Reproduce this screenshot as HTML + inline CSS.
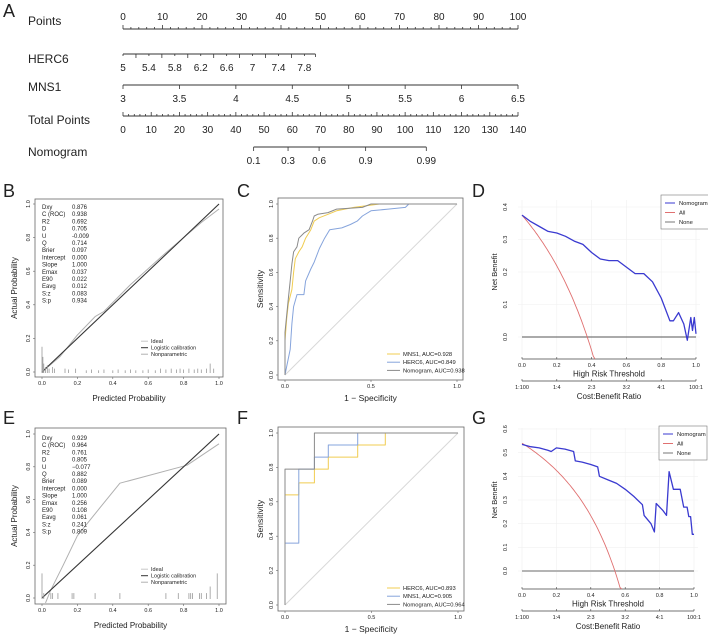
<!DOCTYPE html>
<html><head><meta charset="utf-8">
<style>
html,body{margin:0;padding:0;background:#fff;}
svg{display:block;font-family:"Liberation Sans",Arial,sans-serif;}
</style></head>
<body>
<svg id="chart" width="708" height="636" viewBox="0 0 708 636" xmlns="http://www.w3.org/2000/svg"></svg>
<script>
// ===== Panel A nomogram data =====
const pointsTicks=[0,10,20,30,40,50,60,70,80,90,100];
const herc6Ticks=[5,5.4,5.8,6.2,6.6,7,7.4,7.8];
const herc6PtsPerUnit=16.4;
const mns1Ticks=[3,3.5,4,4.5,5,5.5,6,6.5];
const totalTicks=[0,10,20,30,40,50,60,70,80,90,100,110,120,130,140];
const nomoTicks=[0.1,0.3,0.6,0.9,0.99];
const nomoTotalPts=[46.3,58.5,69.5,86,107.5];
// ===== Panel B calibration =====
const bStatNames=["Dxy","C (ROC)","R2","D","U","Q","Brier","Intercept","Slope","Emax","E90","Eavg","S:z","S:p"];
const bStatVals=["0.876","0.938","0.692","0.705","-0.009","0.714","0.097","0.000","1.000","0.037","0.022","0.012","0.083","0.934"];
const bNonparX=[0,0.1,0.2,0.3,0.35,0.5,0.7,0.9,1.0];
const bNonparY=[0,0.09,0.22,0.33,0.36,0.52,0.71,0.89,0.97];
const bRugX=[0,0.005,0.01,0.02,0.03,0.04,0.06,0.07,0.13,0.15,0.19,0.25,0.28,0.32,0.35,0.4,0.43,0.47,0.5,0.53,0.57,0.6,0.64,0.67,0.7,0.73,0.76,0.78,0.8,0.83,0.86,0.88,0.9,0.93,0.95,0.97];
const bRugH=[0.15,0.09,0.05,0.03,0.04,0.02,0.03,0.02,0.02,0.015,0.02,0.01,0.015,0.01,0.015,0.01,0.015,0.01,0.015,0.01,0.01,0.015,0.01,0.02,0.015,0.02,0.015,0.02,0.015,0.02,0.015,0.02,0.015,0.02,0.05,0.02];
// ===== Panel C ROC =====
const cNomoX=[0,0,0.01,0.02,0.03,0.04,0.05,0.07,0.08,0.11,0.14,0.16,0.17,0.19,0.25,0.3,0.45,0.5,1];
const cNomoY=[0,0.25,0.35,0.45,0.55,0.65,0.72,0.75,0.8,0.83,0.85,0.9,0.93,0.94,0.95,0.97,0.98,1,1];
const cMnsX=[0,0,0.01,0.02,0.04,0.05,0.06,0.08,0.1,0.12,0.15,0.17,0.2,0.25,0.3,0.4,0.55,1];
const cMnsY=[0,0.2,0.33,0.42,0.5,0.6,0.68,0.72,0.75,0.8,0.85,0.9,0.92,0.94,0.96,0.98,1,1];
const cHercX=[0,0.01,0.03,0.04,0.05,0.07,0.11,0.12,0.15,0.17,0.2,0.23,0.26,0.33,0.38,0.42,0.45,0.5,0.6,0.7,0.72,1];
const cHercY=[0,0.05,0.15,0.3,0.4,0.47,0.47,0.55,0.62,0.66,0.74,0.8,0.85,0.86,0.88,0.9,0.93,0.96,0.97,0.98,1,1];
const cLegend=["MNS1, AUC=0.928","HERC6, AUC=0.849","Nomogram, AUC=0.938"];
// ===== Panel D DCA =====
const dPrev=0.375;
const dThreshX=[0,0.05,0.1,0.15,0.2,0.25,0.3,0.35,0.4,0.45,0.5,0.55,0.6,0.65,0.7,0.75,0.8,0.85,0.87,0.9,0.93,0.95,0.97,0.98,0.99,1.0];
const dNomoY=[0.375,0.355,0.34,0.325,0.32,0.31,0.295,0.285,0.26,0.24,0.235,0.235,0.215,0.195,0.195,0.17,0.12,0.05,0.05,0.075,0.04,-0.01,0.06,0.02,0.06,0.01];
// ===== Panel E calibration =====
const eStatVals=["0.929","0.964","0.761","0.805","\u22120.077","0.882","0.089","0.000","1.000","0.256","0.108","0.061","0.241","0.809"];
const eNonparX=[0.02,0.05,0.12,0.2,0.32,0.44,0.82,1.0];
const eNonparY=[-0.03,0.05,0.2,0.38,0.54,0.7,0.81,0.94];
const eRugX=[0,0.01,0.05,0.06,0.09,0.17,0.18,0.3,0.44,0.7,0.77,0.83,0.84,0.85,0.89,0.9,0.93,0.95,0.99];
const eRugH=[0.15,0.03,0.03,0.03,0.03,0.03,0.03,0.03,0.03,0.03,0.03,0.03,0.03,0.03,0.03,0.03,0.03,0.07,0.15];
// ===== Panel F ROC =====
const fHercX=[0,0,0.08,0.08,0.17,0.17,0.25,0.25,0.42,0.42,0.58,0.58,1];
const fHercY=[0,0.64,0.64,0.71,0.71,0.79,0.79,0.86,0.86,0.93,0.93,1,1];
const fMnsX=[0,0,0.08,0.08,0.17,0.17,0.25,0.25,0.42,0.42,1];
const fMnsY=[0,0.36,0.36,0.79,0.79,0.86,0.86,0.93,0.93,1,1];
const fNomoX=[0,0,0.17,0.17,1];
const fNomoY=[0,0.79,0.79,1,1];
const fLegend=["HERC6, AUC=0.893","MNS1, AUC=0.905","Nomogram, AUC=0.964"];
// ===== Panel G DCA =====
const gPrev=0.54;
const gThreshX=[0,0.05,0.1,0.15,0.17,0.2,0.25,0.3,0.31,0.35,0.4,0.44,0.45,0.5,0.55,0.6,0.65,0.7,0.71,0.75,0.77,0.78,0.82,0.84,0.855,0.88,0.92,0.94,0.96,0.97,0.98,0.99,1.0];
const gNomoY=[0.535,0.525,0.52,0.51,0.505,0.52,0.515,0.505,0.465,0.46,0.45,0.44,0.4,0.385,0.37,0.345,0.315,0.28,0.235,0.2,0.165,0.285,0.255,0.235,0.42,0.345,0.345,0.27,0.27,0.23,0.23,0.155,0.155];
// shared tick arrays
const probTicks=[0,0.2,0.4,0.6,0.8,1.0];
const rocTicks=[0,0.5,1.0];
const dcaXTicks=[0,0.2,0.4,0.6,0.8,1.0];
const cbLabels=["1:100","1:4","2:3","3:2","4:1","100:1"];
const dYTicks=[0,0.1,0.2,0.3,0.4];
const gYTicks=[0,0.1,0.2,0.3,0.4,0.5,0.6];

const NS="http://www.w3.org/2000/svg";
const svg=document.getElementById('chart');
function E(tag,attrs,parent){const el=document.createElementNS(NS,tag);for(const k in attrs)el.setAttribute(k,attrs[k]);(parent||svg).appendChild(el);return el;}
function T(x,y,s,size,anchor,parent,extra){const el=E('text',Object.assign({x:x,y:y,'font-size':size,'text-anchor':anchor||'start',fill:'#222'},extra||{}),parent);el.textContent=s;return el;}
function fmt(v){return v.toFixed(1);}
function poly(xs,ys,sx,sy,color,w,parent){let d='';for(let i=0;i<xs.length;i++)d+=(i?'L':'M')+sx(xs[i]).toFixed(1)+','+sy(ys[i]).toFixed(1);return E('path',{d:d,fill:'none',stroke:color,'stroke-width':w,'stroke-linejoin':'round'},parent);}

// panel letters
[["A",3,17],["B",3,197],["C",237,197],["D",472,197],["E",3,424],["F",237,424],["G",472,424]].forEach(l=>{
 const t=T(l[1],l[2],l[0],18,'start');
 
 
});

// ===== Panel A =====
(function(){
 const g=E('g',{});
 
 
 const x0=123,x1=518;const px=p=>x0+(x1-x0)*p/100;
 const lab=(y,s,n)=>{const t=T(28,y,s,12,'start',g);};
 lab(25,'Points','points-row-label');lab(63,'HERC6','herc6-row-label');lab(91,'MNS1','mns1-row-label');lab(124,'Total Points','total-points-row-label');lab(156,'Nomogram','nomogram-row-label');
 let y=29;
 const pa=E('line',{x1:x0,y1:y,x2:x1,y2:y,stroke:'#333','stroke-width':1},g);
 
 for(let p=0;p<=100;p+=2){E('line',{x1:px(p),y1:y,x2:px(p),y2:y-(p%10===0?4:2),stroke:'#333','stroke-width':0.8},g);}
 pointsTicks.forEach(p=>{const t=T(px(p),20,String(p),10,'middle',g);});
 y=54;
 const hp=v=>px((v-5)*herc6PtsPerUnit);
 const hEnd=hp(7.97);
 const ha=E('line',{x1:x0,y1:y,x2:hEnd,y2:y,stroke:'#333','stroke-width':1},g);
 
 for(let v=5;v<=7.81;v+=0.2){E('line',{x1:hp(v),y1:y,x2:hp(v),y2:y+(Math.round(v*10)%4===2?2:4),stroke:'#333','stroke-width':0.8},g);}
 E('line',{x1:hEnd,y1:y,x2:hEnd,y2:y+3,stroke:'#333','stroke-width':0.8},g);
 herc6Ticks.forEach(v=>{const t=T(hp(v),71,String(v),10,'middle',g);});
 y=85;
 const mp=v=>x0+(x1-x0)*(v-3)/3.5;
 const ma=E('line',{x1:x0,y1:y,x2:x1,y2:y,stroke:'#333','stroke-width':1},g);
 
 mns1Ticks.forEach(v=>{E('line',{x1:mp(v),y1:y,x2:mp(v),y2:y+4,stroke:'#333','stroke-width':0.8},g);const t=T(mp(v),102,String(v),10,'middle',g);});
 y=116;
 const tp=v=>x0+(x1-x0)*v/140;
 const ta=E('line',{x1:x0,y1:y,x2:x1,y2:y,stroke:'#333','stroke-width':1},g);
 
 for(let v=0;v<=140;v+=2){E('line',{x1:tp(v),y1:y,x2:tp(v),y2:y-(v%10===0?4:2),stroke:'#333','stroke-width':0.8},g);}
 totalTicks.forEach(v=>{const t=T(tp(v),133,String(v),10,'middle',g);});
 y=147;
 const na=E('line',{x1:tp(nomoTotalPts[0]),y1:y,x2:tp(nomoTotalPts[nomoTotalPts.length-1]),y2:y,stroke:'#333','stroke-width':1},g);
 
 nomoTicks.forEach((v,i)=>{const xx=tp(nomoTotalPts[i]);E('line',{x1:xx,y1:y,x2:xx,y2:y+4,stroke:'#333','stroke-width':0.8},g);const t=T(xx,164,String(v),10,'middle',g);});
})();

// ===== calibration panels =====
function calib(cfg){
 const g=E('g',{});
 
 
 const sx=v=>cfg.x0+v*cfg.w, sy=v=>cfg.y0-v*cfg.h;
 const box=E('rect',{x:cfg.bx0,y:cfg.by0,width:cfg.bx1-cfg.bx0,height:cfg.by1-cfg.by0,fill:'none',stroke:'#666','stroke-width':0.8},g);
 
 probTicks.forEach(v=>{
  E('line',{x1:sx(v),y1:cfg.by1,x2:sx(v),y2:cfg.by1+2,stroke:'#666','stroke-width':0.6},g);
  const t=T(sx(v),cfg.by1+8,fmt(v),5.5,'middle',g);
  E('line',{x1:cfg.bx0,y1:sy(v),x2:cfg.bx0-2,y2:sy(v),stroke:'#666','stroke-width':0.6},g);
  const ty=T(cfg.bx0-5,sy(v),fmt(v),5.5,'middle',g,{transform:'rotate(-90 '+(cfg.bx0-5)+' '+sy(v)+')'});
 });
 const xt=T((cfg.bx0+cfg.bx1)/2,cfg.by1+24,'Predicted Probability',8,'middle',g);
 
 const yc=(cfg.by0+cfg.by1)/2;
 const yt=T(17,yc,'Actual Probability',8,'middle',g,{transform:'rotate(-90 17 '+yc+')'});
 
 const ideal=poly([0,1],[0,1],sx,sy,'#c8c8c8',1.2,g);
 
 const np=poly(cfg.npx,cfg.npy,sx,sy,'#b0b0b0',1,g);
 
 const lg=poly([0,1],[0,1],sx,sy,'#333',1,g);
 
 cfg.rugX.forEach((v,i)=>{const r=E('line',{x1:sx(v),y1:cfg.y0+1,x2:sx(v),y2:sy(cfg.rugH[i]),stroke:'#999','stroke-width':0.8},g);});
 bStatNames.forEach((n,i)=>{
  const yy=cfg.statY+i*7.2;
  const a=T(42,yy,n,6,'start',g);
  const b=T(72,yy,cfg.stats[i],6,'start',g);
 });
 const leg=[['Ideal','#c8c8c8'],['Logistic calibration','#333'],['Nonparametric','#b0b0b0']];
 leg.forEach((l,i)=>{
  const yy=cfg.legY+i*6.5;
  E('line',{x1:141,y1:yy-1.8,x2:148,y2:yy-1.8,stroke:l[1],'stroke-width':1},g);
  const t=T(151,yy,l[0],5.5,'start',g);
 });
}
calib({name:'calibration-training',x0:42,w:177,y0:372,h:168,bx0:35,bx1:223,by0:199,by1:377,npx:bNonparX,npy:bNonparY,rugX:bRugX,rugH:bRugH,stats:bStatVals,statY:209,legY:343});
calib({name:'calibration-validation',x0:42,w:177,y0:598,h:164,bx0:35,bx1:226,by0:428,by1:604,npx:eNonparX,npy:eNonparY,rugX:eRugX,rugH:eRugH,stats:eStatVals,statY:440,legY:571});

// ===== ROC panels =====
function roc(cfg){
 const g=E('g',{});
 
 
 const sx=v=>cfg.x0+v*cfg.w, sy=v=>cfg.y0-v*cfg.h;
 const box=E('rect',{x:cfg.bx0,y:cfg.by0,width:cfg.bx1-cfg.bx0,height:cfg.by1-cfg.by0,fill:'none',stroke:'#666','stroke-width':0.8},g);
 
 rocTicks.forEach(v=>{E('line',{x1:sx(v),y1:cfg.by1,x2:sx(v),y2:cfg.by1+2,stroke:'#666','stroke-width':0.6},g);const t=T(sx(v),cfg.by1+8,fmt(v),5.5,'middle',g);});
 probTicks.forEach(v=>{E('line',{x1:cfg.bx0,y1:sy(v),x2:cfg.bx0-2,y2:sy(v),stroke:'#666','stroke-width':0.6},g);const t=T(cfg.bx0-5,sy(v),fmt(v),5.5,'middle',g,{transform:'rotate(-90 '+(cfg.bx0-5)+' '+sy(v)+')'});});
 const xt=T((cfg.bx0+cfg.bx1)/2,cfg.by1+21,'1 \u2212 Specificity',8.5,'middle',g);
 
 const yc=(cfg.by0+cfg.by1)/2;
 const yt=T(263,yc,'Sensitivity',8.5,'middle',g,{transform:'rotate(-90 263 '+yc+')'});
 
 const ref=poly([0,1],[0,1],sx,sy,'#d8d8d8',1,g);
 
 cfg.series.forEach(s=>{const p=poly(s.x,s.y,sx,sy,s.c,1,g);});
 cfg.legend.forEach((l,i)=>{
  const yy=cfg.legY+i*8.2;
  E('line',{x1:387,y1:yy-2,x2:400,y2:yy-2,stroke:cfg.series[cfg.legOrder[i]].c,'stroke-width':1},g);
  const t=T(403,yy,l,5.8,'start',g);
 });
}
const Y='#f0cc50',BL='#86a4dc',GR='#8a8a8a';
roc({name:'roc-training',x0:285,w:172,y0:375,h:171,bx0:278,bx1:463,by0:198,by1:380,legY:356,legend:cLegend,legOrder:[1,0,2],
 series:[{x:cHercX,y:cHercY,c:BL,n:'roc-herc6'},{x:cMnsX,y:cMnsY,c:Y,n:'roc-mns1'},{x:cNomoX,y:cNomoY,c:GR,n:'roc-nomogram'}]});
roc({name:'roc-validation',x0:285,w:173,y0:605,h:172,bx0:278,bx1:464,by0:427,by1:611,legY:590,legend:fLegend,legOrder:[0,1,2],
 series:[{x:fHercX,y:fHercY,c:Y,n:'roc-herc6'},{x:fMnsX,y:fMnsY,c:BL,n:'roc-mns1'},{x:fNomoX,y:fNomoY,c:GR,n:'roc-nomogram'}]});

// ===== DCA panels =====
function dca(cfg){
 const g=E('g',{});
 
 
 const sx=v=>cfg.x0+v*cfg.w, sy=v=>cfg.y0-v*cfg.h;
 const top=cfg.top, bot=cfg.axisY-4;
 cfg.yTicks.forEach(v=>{E('line',{x1:sx(0)-4,y1:sy(v),x2:sx(1)+4,y2:sy(v),stroke:'#f0f0f0','stroke-width':0.6},g);});
 dcaXTicks.forEach(v=>{E('line',{x1:sx(v),y1:top,x2:sx(v),y2:bot,stroke:'#f0f0f0','stroke-width':0.6},g);});
 cfg.yTicks.forEach(v=>{const t=T(cfg.x0-15,sy(v),fmt(v),5.5,'middle',g,{transform:'rotate(-90 '+(cfg.x0-15)+' '+sy(v)+')'});});
 const yc=sy(cfg.yTicks[Math.floor(cfg.yTicks.length/2)]);
 const yt=T(497,yc,'Net Benefit',7.5,'middle',g,{transform:'rotate(-90 497 '+yc+')'});
 
 const a1=E('line',{x1:sx(0),y1:cfg.axisY,x2:sx(1),y2:cfg.axisY,stroke:'#444','stroke-width':0.8},g);
 
 const a2=E('line',{x1:sx(0),y1:cfg.axisY+22,x2:sx(1),y2:cfg.axisY+22,stroke:'#444','stroke-width':0.8},g);
 
 dcaXTicks.forEach((v,i)=>{
  E('line',{x1:sx(v),y1:cfg.axisY,x2:sx(v),y2:cfg.axisY-2,stroke:'#444','stroke-width':0.6},g);
  E('line',{x1:sx(v),y1:cfg.axisY+22,x2:sx(v),y2:cfg.axisY+20,stroke:'#444','stroke-width':0.6},g);
  const t=T(sx(v),cfg.axisY+8,fmt(v),5.5,'middle',g);
  const c=T(sx(v),cfg.axisY+30,cbLabels[i],5.5,'middle',g);
 });
 const xt=T(sx(0.5),cfg.axisY+17.5,'High Risk Threshold',8,'middle',g);
 
 const xt2=T(sx(0.5),cfg.axisY+40,'Cost:Benefit Ratio',8,'middle',g);
 
 const none=poly([0,1],[0,0],sx,sy,cfg.noneColor,cfg.noneW,g);
 
 const ax=[],ay=[];
 for(let t=0;t<0.99;t+=0.01){const nb=cfg.prev-(1-cfg.prev)*t/(1-t);const yb=(cfg.y0-cfg.axisY)/cfg.h;if(nb<yb){ax.push(t);ay.push(yb);break;}ax.push(t);ay.push(nb);}
 const all=poly(ax,ay,sx,sy,'#e07070',0.9,g);
 
 const nomo=poly(cfg.tx,cfg.ny,sx,sy,'#3a3ad0',1.3,g);
 
 const lb=E('rect',{x:cfg.lx,y:cfg.ly,width:48,height:34,fill:'#fff',stroke:'#777','stroke-width':0.6},g);
 
 [['Nomogram','#3a3ad0'],['All','#e07070'],['None','#777']].forEach((l,i)=>{
  const yy=cfg.ly+10+i*9.5;
  E('line',{x1:cfg.lx+4,y1:yy-2,x2:cfg.lx+14,y2:yy-2,stroke:l[1],'stroke-width':1},g);
  const t=T(cfg.lx+18,yy,l[0],5.8,'start',g);
 });
}
dca({name:'dca-training',x0:522,w:174,y0:337,h:325,axisY:359,top:200,yTicks:dYTicks,prev:dPrev,tx:dThreshX,ny:dNomoY,lx:661,ly:195,noneColor:'#777',noneW:1.2});
dca({name:'dca-validation',x0:522,w:172,y0:571,h:236.7,axisY:589,top:428,yTicks:gYTicks,prev:gPrev,tx:gThreshX,ny:gNomoY,lx:659,ly:426,noneColor:'#aaa',noneW:1.8});
</script>
</body></html>
